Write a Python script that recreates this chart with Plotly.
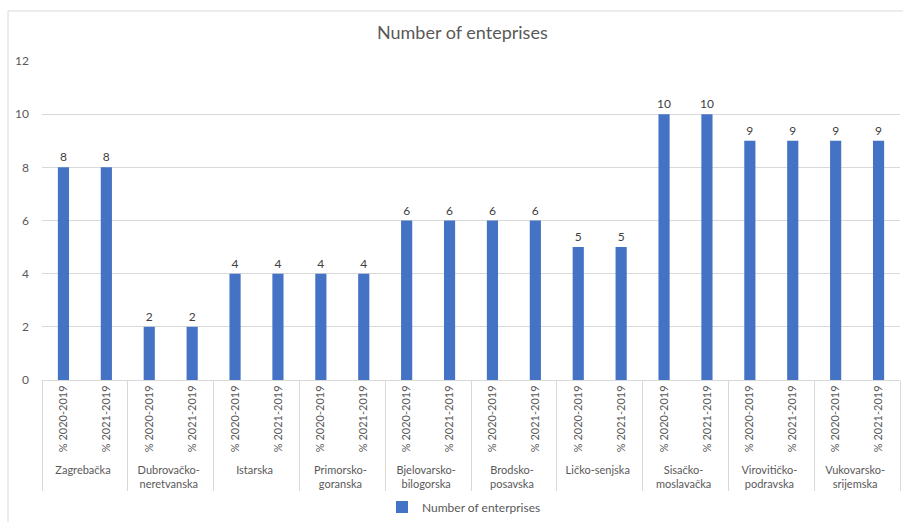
import plotly.graph_objects as go

regions = ["Zagrebačka", "Dubrovačko-<br>neretvanska", "Istarska", "Primorsko-<br>goranska",
           "Bjelovarsko-<br>bilogorska", "Brodsko-<br>posavska", "Ličko-senjska",
           "Sisačko-<br>moslavačka", "Virovitičko-<br>podravska", "Vukovarsko-<br>srijemska"]
periods = ["% 2020-2019", "% 2021-2019"]
values_2020 = [8, 2, 4, 4, 6, 6, 5, 10, 9, 9]
values_2021 = [8, 2, 4, 4, 6, 6, 5, 10, 9, 9]
y_ticks = [0, 2, 4, 6, 8, 10, 12]

outer, inner, vals = [], [], []
for r, a, b in zip(regions, values_2020, values_2021):
    outer += [r, r]
    inner += periods
    vals += [a, b]

FONT = "Lato"
GREY = "#595959"

fig = go.Figure()
fig.add_trace(go.Bar(
    x=[outer, inner], y=vals, name="Number of enterprises",
    marker_color="#4472C4", marker_line_width=0,
    text=vals, textposition="outside", cliponaxis=False, constraintext="none",
    textfont=dict(family=FONT, size=12, color="#404040"),
))

fig.update_layout(
    width=903, height=522,
    margin=dict(l=42, r=3, t=61, b=142, autoexpand=False),
    paper_bgcolor="white", plot_bgcolor="white",
    font=dict(family=FONT, size=12, color=GREY),
    title=dict(text="Number of enteprises", x=0.512, xanchor="center", xref="container",
               y=1 - 33 / 522, yanchor="middle", yref="container",
               font=dict(family=FONT, size=18, color=GREY)),
    bargap=0.74,
    showlegend=True,
    legend=dict(orientation="h", x=(382 - 42) / 858, xanchor="left",
                y=1 - 507 / 522, yref="container", yanchor="middle", itemwidth=30,
                bgcolor="rgba(0,0,0,0)",
                font=dict(family=FONT, size=12, color=GREY)),
    shapes=[dict(type="rect", xref="paper", yref="paper",
                 x0=-34 / 858, x1=1.05, y0=-0.6, y1=1 + 50 / 319,
                 line=dict(color="#d9d9d9", width=1), layer="below")],
)
fig.update_xaxes(
    type="multicategory", tickangle=-90, automargin=False,
    showline=True, linecolor="#d9d9d9", linewidth=1,
    showdividers=True, dividercolor="#d9d9d9", dividerwidth=1,
    ticks="", tickfont=dict(family=FONT, size=11, color=GREY),
    showgrid=False,
)
fig.update_yaxes(
    range=[0, 12], tickvals=y_ticks, showgrid=True, gridcolor="#d9d9d9", gridwidth=1,
    zeroline=False, showline=False, ticks="", ticklabelstandoff=12, automargin=False,
    tickfont=dict(family=FONT, size=12, color=GREY),
)

fig.write_html("out.html")
